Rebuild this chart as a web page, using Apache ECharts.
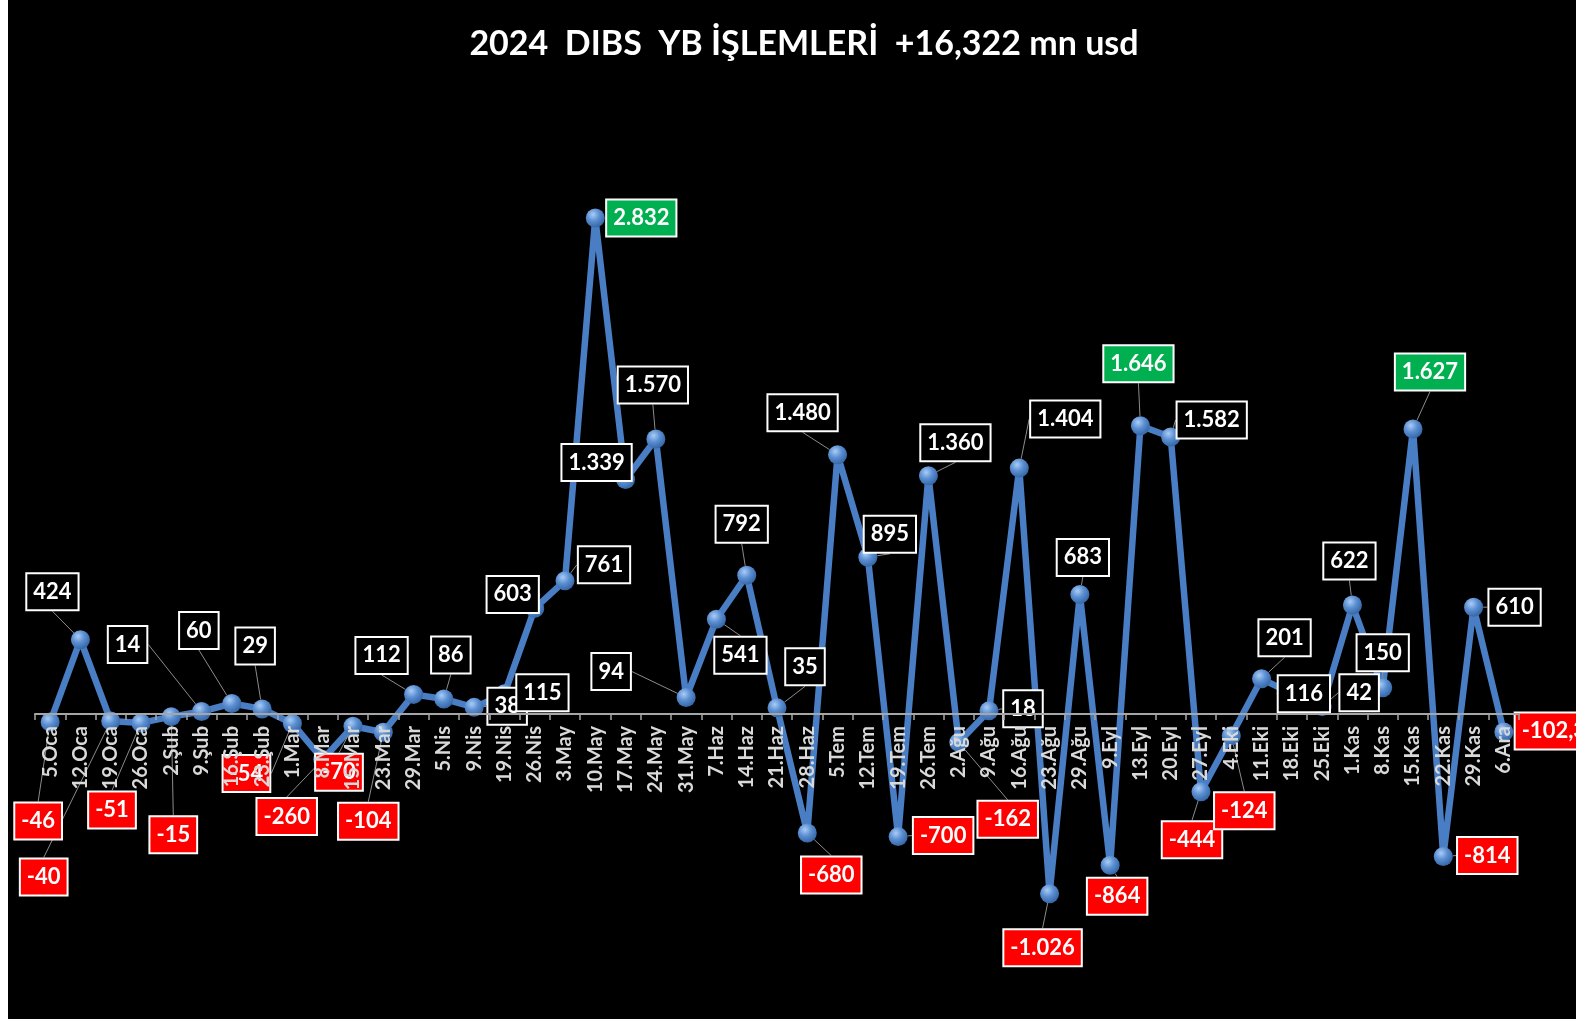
<!DOCTYPE html>
<html>
<head>
<meta charset="utf-8">
<script src="https://cdn.jsdelivr.net/npm/echarts@6/dist/echarts.min.js"></script>
<style>
  html, body { margin: 0; padding: 0; background: #000; }
  #chart { width: 1576px; height: 1019px; }
</style>
</head>
<body>
<div id="chart"></div>
<script>
// ---- data ----
const categories = ['5.Oca','12.Oca','19.Oca','26.Oca','2.Şub','9.Şub','16.Şub','23.Şub','1.Mar','8.Mar','15.Mar','23.Mar','29.Mar','5.Nis','9.Nis','19.Nis','26.Nis','3.May','10.May','17.May','24.May','31.May','7.Haz','14.Haz','21.Haz','28.Haz','5.Tem','12.Tem','19.Tem','26.Tem','2.Ağu','9.Ağu','16.Ağu','23.Ağu','29.Ağu','9.Eyl','13.Eyl','20.Eyl','27.Eyl','4.Eki','11.Eki','18.Eki','25.Eki','1.Kas','8.Kas','15.Kas','22.Kas','29.Kas','6.Ara'];
const values = [-46,424,-40,-51,-15,14,60,29,-54,-260,-70,-104,112,86,38,115,603,761,2832,1339,1570,94,541,792,35,-680,1480,895,-700,1360,-162,18,1404,-1026,683,-864,1646,1582,-444,-124,201,116,42,622,150,1627,-814,610,-102.3];
const titleText = '2024  DIBS  YB İŞLEMLERİ  +16,322 mn usd';

// ---- layout (label offsets from each point, px) ----
const labelOffsets = [
  [-12,99],[-28,-48],[-67,156],[-29,87],[2,118],[-74,-67],[-33,-73],[-7,-63],[-46,50],[-36,57],
  [-14,46],[-15,89],[-32,-39],[7,-44],[33,-1],[38,-1],[-22,-14],[39,-16],[46,0],[-29,-17],
  [-3,-54],[-75,-26],[24,36],[-5,-51],[28,-41],[24,42],[-35,-42],[22,-23],[45,-1],[27,-33],
  [49,77],[34,-2],[46,-49],[-7,54],[3,-37],[7,31],[-2,-62],[41,-17],[-9,48],[13,75],
  [23,-41],[12,0],[37,-14],[-3,-44],[0,-35],[17,-57],[44,-1],[41,0],[50,-1]
];

function fmtTR(v) {
  const neg = v < 0;
  const a = Math.abs(v);
  let intPart = Math.floor(a);
  let dec = Math.round((a - intPart) * 10);
  let s = String(intPart).replace(/\B(?=(\d{3})+(?!\d))/g, '.');
  if (dec) s += ',' + dec;
  return (neg ? '-' : '') + s;
}
function boxColor(v) {
  if (v < 0) return '#FF0000';
  if (v >= 1600) return '#00B050';
  return '#000000';
}

const seriesData = values.map(v => ({
  value: v,
  label: { backgroundColor: boxColor(v) }
}));

const chart = echarts.init(document.getElementById('chart'));
chart.setOption({
  backgroundColor: '#000',
  animation: false,
  title: {
    text: titleText,
    left: 799,
    textAlign: 'center',
    top: 22,
    textStyle: { color: '#fff', fontFamily: 'Lato', fontWeight: 'bold', fontSize: 34 }
  },
  graphic: [{
    type: 'rect', left: 0, top: 0, z: 100,
    shape: { width: 8, height: 1019 },
    style: { fill: '#ffffff' }
  }],
  grid: [
    { left: 35, right: 57, top: 188.6, bottom: 42.3, containLabel: false, outerBoundsMode: 'none' },
    { left: 35, right: 57, top: 188.6, bottom: 305, containLabel: false, outerBoundsMode: 'none' }
  ],
  xAxis: [{
    type: 'category',
    gridIndex: 0,
    data: categories,
    boundaryGap: true,
    show: false
  }, {
    type: 'category',
    gridIndex: 1,
    data: categories,
    boundaryGap: true,
    position: 'bottom',
    z: 10,
    axisLine: { show: true, onZero: false, lineStyle: { color: '#A6A6A6', width: 2 } },
    axisTick: { show: true, length: 6, lineStyle: { color: '#A6A6A6', width: 1.5 } },
    axisLabel: {
      interval: 0, rotate: 90, margin: 12,
      color: '#D9D9D9', fontFamily: 'Lato', fontWeight: 'bold', fontSize: 20
    }
  }],
  yAxis: [{
    type: 'value', gridIndex: 0, min: -1500, max: 3000, show: false,
    splitLine: { show: false }
  }, {
    type: 'value', gridIndex: 1, min: 0, max: 1, show: false,
    splitLine: { show: false }
  }],
  series: [{
    type: 'line',
    xAxisIndex: 0,
    yAxisIndex: 0,
    data: seriesData,
    z: 2,
    symbol: 'circle',
    symbolSize: 19,
    lineStyle: { color: '#4A7EC4', width: 6.5 },
    itemStyle: {
      color: {
        type: 'radial', x: 0.38, y: 0.32, r: 0.75,
        colorStops: [
          { offset: 0, color: '#A9CCF5' },
          { offset: 0.45, color: '#5B8FD2' },
          { offset: 1, color: '#2F5F9E' }
        ]
      }
    },
    label: {
      show: true,
      position: 'inside',
      formatter: p => fmtTR(p.value),
      color: '#ffffff',
      fontFamily: 'Lato',
      fontWeight: 'bold',
      fontSize: 22,
      borderColor: '#ffffff',
      borderWidth: 2,
      padding: [7, 6, 6, 6]
    },
    labelLine: {
      show: true,
      lineStyle: { color: '#8C8C8C', width: 1 }
    },
    labelLayout: function (params) {
      const o = labelOffsets[params.dataIndex];
      return { dx: o[0], dy: o[1] };
    }
  }]
});
</script>
</body>
</html>
